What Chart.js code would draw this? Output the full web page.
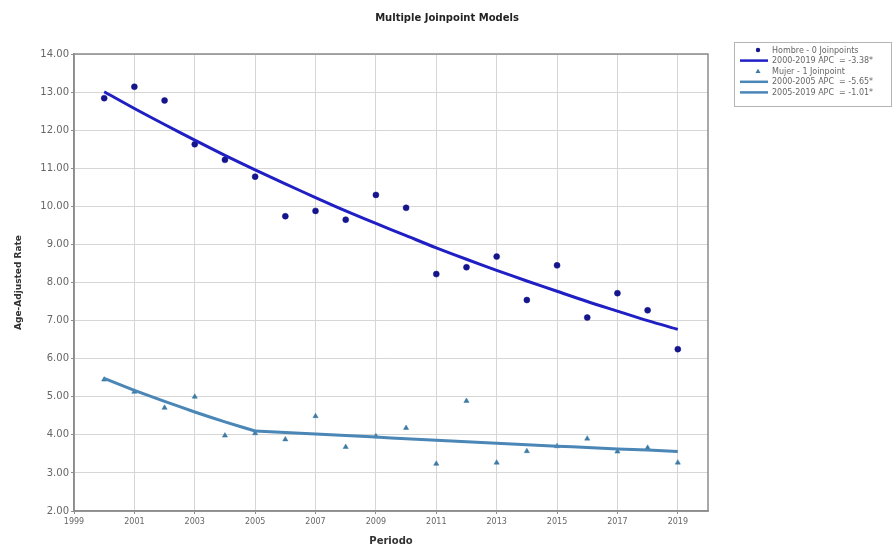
<!DOCTYPE html>
<html>
<head>
<meta charset="utf-8">
<script src="https://cdn.jsdelivr.net/npm/chart.js@4.4.0/dist/chart.umd.min.js"></script>
<style>
  html, body { margin: 0; padding: 0; background: #fff; }
  #wrap { width: 894px; height: 547px; }
</style>
</head>
<body>
<div id="wrap"><canvas id="grafico" width="894" height="547"></canvas></div>
<script>
// Modelos Joinpoint: tasa ajustada por edad, 2000-2019

const años = [2000, 2001, 2002, 2003, 2004, 2005, 2006, 2007, 2008, 2009,
              2010, 2011, 2012, 2013, 2014, 2015, 2016, 2017, 2018, 2019];

// Observados
const hombreObs = [12.84, 13.14, 12.78, 11.63, 11.22, 10.78, 9.74, 9.88, 9.65, 10.30,
                   9.96, 8.22, 8.40, 8.68, 7.54, 8.45, 7.08, 7.72, 7.27, 6.25];
const mujerObs = [5.45, 5.13, 4.71, 5.00, 3.98, 4.04, 3.88, 4.49, 3.68, 3.96,
                  4.18, 3.24, 4.89, 3.27, 3.57, 3.70, 3.90, 3.56, 3.66, 3.27];

// Modelados
const hombreModelo = [13.01, 12.57, 12.15, 11.74, 11.34, 10.96, 10.59, 10.23, 9.88, 9.55,
                      9.23, 8.91, 8.61, 8.32, 8.04, 7.77, 7.50, 7.25, 7.00, 6.77];
const mujerTramo1 = [5.48, 5.17, 4.88, 4.60, 4.34, 4.10, null, null, null, null,
                     null, null, null, null, null, null, null, null, null, null];
const mujerTramo2 = [null, null, null, null, null, 4.10, 4.06, 4.02, 3.98, 3.94,
                     3.90, 3.86, 3.82, 3.78, 3.74, 3.70, 3.67, 3.63, 3.60, 3.56];

const ticksX = [1999, 2001, 2003, 2005, 2007, 2009, 2011, 2013, 2015, 2017, 2019];
const ticksY = [2, 3, 4, 5, 6, 7, 8, 9, 10, 11, 12, 13, 14];

const etiquetas = ['Hombre - 0 Joinpoints', '2000-2019 APC  = -3.38*',
                   'Mujer - 1 Joinpoint', '2000-2005 APC  = -5.65*', '2005-2019 APC  = -1.01*'];

const FUENTE = "'DejaVu Sans', Verdana, sans-serif";

function pares(valores) {
  return años.map((a, i) => ({ x: a, y: valores[i] })).filter(p => p.y !== null);
}

// Título, marco del área y leyenda
const extras = {
  id: 'extras',
  beforeDraw(chart) {
    const { ctx, width, height } = chart;
    ctx.save();
    ctx.fillStyle = '#ffffff';
    ctx.fillRect(0, 0, width, height);
    ctx.restore();
  },
  beforeDatasetsDraw(chart) {
    const { ctx, chartArea: { left, top, right, bottom } } = chart;
    ctx.save();
    ctx.strokeStyle = '#8c8c8c';
    ctx.lineWidth = 1.5;
    ctx.strokeRect(left, top, right - left, bottom - top);
    ctx.restore();
  },
  afterDraw(chart) {
    const { ctx } = chart;
    ctx.save();
    ctx.fillStyle = '#222';
    ctx.font = "bold 10px " + FUENTE;
    ctx.textAlign = 'center';
    ctx.textBaseline = 'middle';
    ctx.fillText('Multiple Joinpoint Models', 447, 18);

    // leyenda
    const x0 = 734, y0 = 42, w = 157, h = 64;
    ctx.strokeStyle = '#b5b5b5';
    ctx.lineWidth = 1;
    ctx.strokeRect(x0 + 0.5, y0 + 0.5, w, h);
    ctx.font = "8px " + FUENTE;
    ctx.textAlign = 'left';
    chart.data.datasets.forEach((ds, i) => {
      const y = y0 + 8 + i * 10.6;
      if (ds.showLine === false) {
        ctx.fillStyle = ds.pointBackgroundColor;
        ctx.beginPath();
        if (ds.pointStyle === 'triangle') {
          ctx.moveTo(758, y - 2.5); ctx.lineTo(760.5, y + 1.8); ctx.lineTo(755.5, y + 1.8);
        } else {
          ctx.arc(758, y, 2.2, 0, Math.PI * 2);
        }
        ctx.closePath();
        ctx.fill();
      } else {
        ctx.strokeStyle = ds.borderColor;
        ctx.lineWidth = 2.5;
        ctx.beginPath();
        ctx.moveTo(740, y);
        ctx.lineTo(768, y);
        ctx.stroke();
      }
      ctx.fillStyle = '#666';
      ctx.fillText(ds.label, 772, y + 0.5);
    });
    ctx.restore();
  }
};

const ctx = document.getElementById('grafico').getContext('2d');

new Chart(ctx, {
  type: 'line',
  data: {
    datasets: [
      {
        label: etiquetas[0],
        data: pares(hombreObs),
        showLine: false,
        pointStyle: 'circle',
        pointRadius: 3,
        pointBackgroundColor: '#15158c',
        pointBorderColor: '#15158c',
        pointBorderWidth: 0.5,
        order: 2
      },
      {
        label: etiquetas[1],
        data: pares(hombreModelo),
        borderColor: '#1f1fc4',
        borderWidth: 3,
        pointRadius: 0,
        tension: 0.3,
        order: 1
      },
      {
        label: etiquetas[2],
        data: pares(mujerObs),
        showLine: false,
        pointStyle: 'triangle',
        pointRadius: 3,
        pointBackgroundColor: '#3d7aa3',
        pointBorderColor: '#3d7aa3',
        pointBorderWidth: 0.5,
        order: 2
      },
      {
        label: etiquetas[3],
        data: pares(mujerTramo1),
        borderColor: '#4a86b6',
        borderWidth: 3,
        pointRadius: 0,
        tension: 0.2,
        order: 1
      },
      {
        label: etiquetas[4],
        data: pares(mujerTramo2),
        borderColor: '#4a86b6',
        borderWidth: 3,
        pointRadius: 0,
        tension: 0.2,
        order: 1
      }
    ]
  },
  options: {
    responsive: false,
    animation: false,
    layout: { padding: { top: 54, right: 186, left: 0, bottom: 0 } },
    plugins: {
      legend: { display: false },
      title: { display: false },
      tooltip: { enabled: false }
    },
    scales: {
      x: {
        type: 'linear',
        min: 1999,
        max: 2020,
        afterBuildTicks: (eje) => { eje.ticks = ticksX.map(v => ({ value: v })); },
        afterFit: (eje) => { eje.height = 36; },
        grid: { color: '#d6d6d6', lineWidth: 1, tickLength: 3, tickColor: '#8c8c8c' },
        border: { color: '#8c8c8c', width: 1.5 },
        ticks: {
          color: '#666',
          font: { family: FUENTE, size: 8 },
          padding: 3,
          maxRotation: 0,
          autoSkip: false,
          callback: (v) => String(v)
        },
        title: {
          display: true,
          text: 'Periodo',
          color: '#333',
          font: { family: FUENTE, size: 10, weight: 'bold' },
          padding: { top: 0, bottom: 0 }
        }
      },
      y: {
        min: 2,
        max: 14,
        afterBuildTicks: (eje) => { eje.ticks = ticksY.map(v => ({ value: v })); },
        afterFit: (eje) => { eje.width = 74; },
        grid: { color: '#d6d6d6', lineWidth: 1, tickLength: 3, tickColor: '#8c8c8c' },
        border: { color: '#8c8c8c', width: 1.5 },
        ticks: {
          color: '#666',
          font: { family: FUENTE, size: 10 },
          padding: 2,
          callback: (v) => Number(v).toFixed(2)
        },
        title: {
          display: true,
          text: 'Age-Adjusted Rate',
          color: '#333',
          font: { family: FUENTE, size: 9, weight: 'bold' },
          padding: { top: 13, bottom: 0 }
        }
      }
    }
  },
  plugins: [extras]
});
</script>
</body>
</html>
